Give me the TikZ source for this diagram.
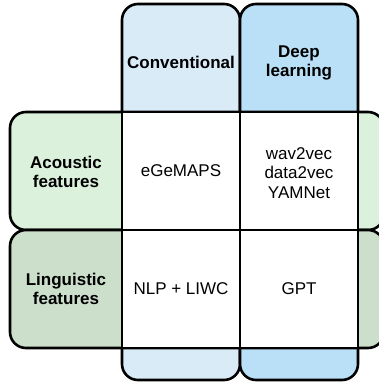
\documentclass[tikz,border=0pt]{standalone}
\usepackage{fontspec}
\setmainfont{Liberation Sans}
\definecolor{convblue}{RGB}{218,235,248}
\definecolor{deepblue}{RGB}{185,224,246}
\definecolor{acgreen}{RGB}{219,241,219}
\definecolor{lingreen}{RGB}{203,223,202}
\tikzset{
  band/.style={draw=black, line width=2.6pt, rounded corners=16pt, inner sep=0pt, outer sep=0pt},
  cell/.style={draw=black, line width=2.6pt, fill=white, inner sep=0pt, outer sep=0pt, minimum width=118pt, minimum height=118pt},
  lbl/.style={align=center, font=\fontsize{17}{19.5}\selectfont, inner sep=0pt},
  hdr/.style={lbl, font=\fontsize{17}{19.5}\selectfont\bfseries}
}
\begin{document}
\begin{tikzpicture}[x=1pt,y=-1pt]
\useasboundingbox (0,0) rectangle (379,383);
\clip (0,0) rectangle (379,383);
% columns
\draw[band, fill=convblue] (122,4) rectangle (240,380);
\draw[band, fill=deepblue] (240,4) rectangle (358,380);
% rows
\draw[band, fill=acgreen] (10,112) rectangle (384,230);
\draw[band, fill=lingreen] (10,230) rectangle (384,348);
% cells
\node[cell] (c11) at (181,171) {};
\node[cell] (c12) at (299,171) {};
\node[cell] (c21) at (181,289) {};
\node[cell] (c22) at (299,289) {};
% labels
\node[hdr] (hconv) at (181,62) {Conventional};
\node[hdr] (hdeep) at (299,63) {Deep\\learning};
\node[hdr] (hac) at (66,172) {Acoustic\\features};
\node[hdr] (hlin) at (66,289) {Linguistic\\features};
\node[lbl] (t11) at (c11) {eGeMAPS};
\node[lbl] (t12) at (299,173) {wav2vec\\data2vec\\YAMNet};
\node[lbl] (t21) at (c21) {NLP + LIWC};
\node[lbl] (t22) at (c22) {GPT};
\end{tikzpicture}
\end{document}
